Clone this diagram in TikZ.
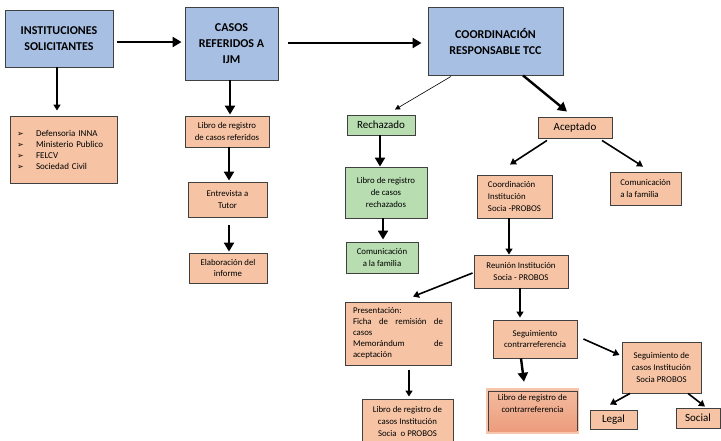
\documentclass[tikz,border=0pt]{standalone}
\usepackage{fontspec}
\setmainfont{Carlito}
\newfontfamily\symfont{DejaVu Sans}
\usepackage{tikz}
\usetikzlibrary{arrows.meta}
\usetikzlibrary{calc}

\definecolor{cajaazul}{HTML}{A7BFE3}
\definecolor{cajanaranja}{HTML}{F6C4A5}
\definecolor{cajaverde}{HTML}{B7DDB0}
\definecolor{borde}{HTML}{404040}
\definecolor{salmonarriba}{HTML}{F4BC9F}
\definecolor{salmonabajo}{HTML}{EC9B7C}
\definecolor{salmonbrillo}{HTML}{F7C6AD}
\newcommand{\flechita}{{\symfont\fontsize{8}{8}\selectfont ➢}}

\begin{document}
\begin{tikzpicture}[x=1pt,y=-1pt,
	caja/.style={draw=borde,line width=0.9pt,inner sep=0pt},
	titulo/.style={caja,fill=cajaazul,align=center,font=\fontsize{12}{16}\selectfont\bfseries},
	naranja/.style={caja,fill=cajanaranja,align=center,font=\fontsize{8.8}{11.7}\selectfont},
	verde/.style={caja,fill=cajaverde,align=center,font=\fontsize{8.8}{11.7}\selectfont},
	grande/.style={font=\fontsize{11}{13}\selectfont},
	gruesa/.style={line width=2.4pt,-{Triangle[length=9pt,width=10pt]}},
	media/.style={line width=1.6pt,-{Triangle[length=6pt,width=7pt]}},
	fina/.style={line width=0.6pt,-{Triangle[length=5pt,width=5pt]}}]
	\useasboundingbox (0,0) rectangle (721,440);
	\node[titulo,minimum width=108,minimum height=57] (inst) at (59,38.5) {INSTITUCIONES\\SOLICITANTES};
	\node[titulo,minimum width=93,minimum height=73] (casos) at (231.5,43.5) {CASOS\\REFERIDOS A\\IJM};
	\node[titulo,minimum width=135,minimum height=68] (coord) at (495.5,41) {COORDINACIÓN\\RESPONSABLE TCC};
	\node[naranja,align=left,font=\fontsize{9}{11}\selectfont,text width=93,inner xsep=7,minimum height=67] (lista) at (63.5,149.5) {\makebox[19pt][l]{\flechita}Defensoria INNA\\\makebox[19pt][l]{\flechita}Ministerio Publico\\\makebox[19pt][l]{\flechita}FELCV\\\makebox[19pt][l]{\flechita}Sociedad Civil};
	\node[naranja,minimum width=84,minimum height=31] (librefe) at (227,131.5) {Libro de registro\\de casos referidos};
	\node[naranja,minimum width=79,minimum height=35] (entrev) at (227.5,199.5) {Entrevista a\\Tutor};
	\node[naranja,minimum width=78,minimum height=30] (elab) at (228,268) {Elaboración del\\informe};
	\node[verde,grande,minimum width=68,minimum height=20] (rech) at (381,125) {Rechazado};
	\node[naranja,grande,minimum width=74,minimum height=21] (acep) at (575,127.5) {Aceptado};
	\node[verde,minimum width=82,minimum height=51] (librech) at (386,192.5) {Libro de registro\\de casos\\rechazados};
	\node[verde,minimum width=72,minimum height=31] (comrech) at (382,257.5) {Comunicación\\a la familia};
	\node[naranja,align=left,minimum width=75,minimum height=43] (coordinst) at (514.5,196.5) {Coordinación\\Institución\\Socia -PROBOS};
	\node[naranja,align=left,minimum width=71,minimum height=33] (comacep) at (645.5,188.5) {Comunicación\\a la familia};
	\node[naranja,minimum width=94,minimum height=33] (reunion) at (521,271.5) {Reunión Institución\\Socia - PROBOS};
	\node[naranja,align=left,text width=90,inner xsep=8,minimum height=63,font=\fontsize{8.8}{11}\selectfont] (present) at (398,333.5) {Presentación:\\Ficha\hfill de\hfill remisión\hfill de\\casos\\Memorándum\hfill de\\aceptación};
	\node[naranja,minimum width=84,minimum height=38] (seguim) at (535,339) {Seguimiento\\contrarreferencia};
	\node[naranja,minimum width=79,minimum height=51] (segcasos) at (661.5,367.5) {Seguimiento de\\casos Institución\\Socia PROBOS};
	\node[naranja,minimum width=91,minimum height=45] (libinst) at (407.5,421.5) {Libro de registro de\\casos Institución\\Socia\ \ o PROBOS};
	\node[caja,draw=salmonbrillo,line width=2.5pt,top color=salmonarriba,bottom color=salmonabajo,align=center,font=\fontsize{8.8}{11.7}\selectfont,minimum width=91,minimum height=44] (libcontra) at (532.5,411) {Libro de registro de\\contrarreferencia\\[4pt]};
	\draw[borde,line width=0.8pt] ($(libcontra.south west)+(2.5,-3)$) |- ($(libcontra.north)+(0,4)$) -| ($(libcontra.south east)+(-2,-3)$);
	\node[naranja,grande,minimum width=47,minimum height=19] (legal) at (613.5,419.5) {Legal};
	\node[naranja,grande,minimum width=44,minimum height=20] (social) at (698,418) {Social};
	\draw[gruesa] ($(inst.east)+(4,3.5)$) -- ($(casos.west)+(-3,-1.5)$);
	\draw[gruesa] ($(casos.east)+(10,-0.5)$) -- ($(coord.west)+(-6,2)$);
	\draw[media] ($(inst.south)+(-2,0)$) -- ($(lista.north)+(-6.5,-5)$);
	\draw[gruesa] ($(casos.south)+(-1.5,0)$) -- ($(librefe.north)+(3,-1)$);
	\draw[gruesa] ($(librefe.south)+(2,0)$) -- ($(entrev.north)+(1.5,-1)$);
	\draw[gruesa] ($(entrev.south)+(1.5,8)$) -- ($(elab.north)+(1,-1)$);
	\draw[fina] ($(coord.south)+(-44.5,1)$) -- ($(rech.north)+(14,-5)$);
	\draw[gruesa] ($(coord.south)+(27.5,0)$) -- ($(acep.north)+(-8,-5)$);
	\draw[gruesa] ($(rech.south)+(-1,0)$) -- ($(librech.north)+(-6,0)$);
	\draw[media] ($(acep.south)+(-28,2)$) -- ($(coordinst.north)+(-4.5,-10)$);
	\draw[media] ($(acep.south)+(27,2)$) -- ($(comacep.north)+(-2.5,-5)$);
	\draw[gruesa] ($(librech.south)+(-3,0)$) -- ($(comrech.north)+(1,-2)$);
	\draw[media] ($(coordinst.south)+(-5.5,0)$) -- ($(reunion.north)+(-12,0)$);
	\draw[media] ($(reunion.west)+(-1,1.5)$) -- ($(present.north)+(15,-5)$);
	\draw[media] ($(reunion.south)+(-1,0)$) -- ($(seguim.north)+(-15,-2)$);
	\draw[media] ($(seguim.east)+(6,0)$) -- ($(segcasos.west)+(-2,-12.5)$);
	\draw[media] ($(present.south)+(11,5)$) -- ($(libinst.north)+(1.5,-2)$);
	\draw[gruesa] ($(seguim.south)+(-14,0)$) -- ($(libcontra.north)+(-8.5,-6)$);
	\draw[media] ($(segcasos.south)+(-31.5,0)$) -- ($(legal.north)+(-3.5,-5)$);
	\draw[media] ($(segcasos.south)+(26.5,0)$) -- ($(social.north)+(7,-1)$);
\end{tikzpicture}
\end{document}
